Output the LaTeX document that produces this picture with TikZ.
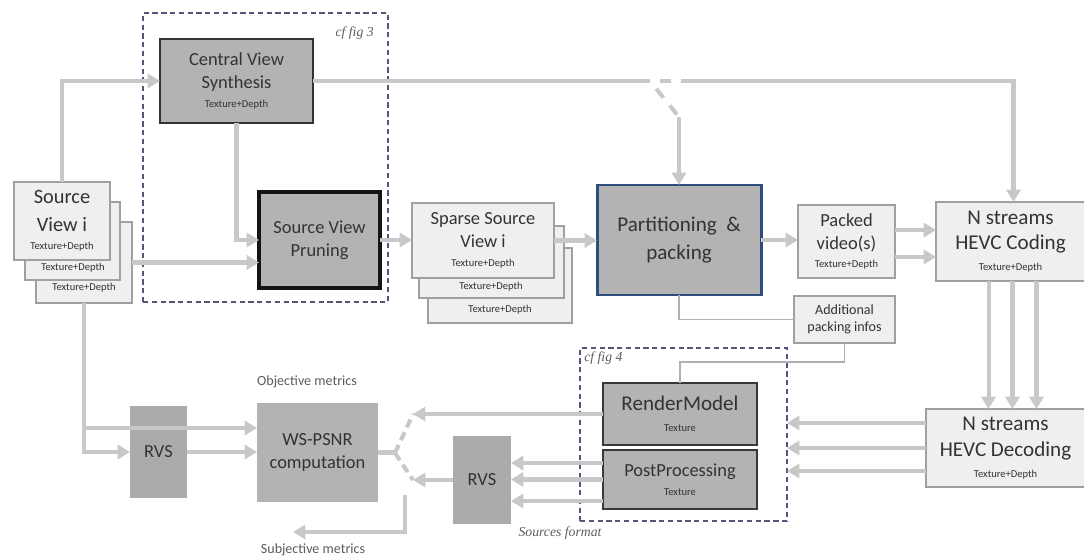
\documentclass[tikz,border=0pt]{standalone}
\usepackage{fontspec}
\setmainfont{Carlito}
\newfontfamily\serifit{Liberation Serif}
\usetikzlibrary{arrows.meta,calc}
\definecolor{arr}{HTML}{C8C8C8}
\definecolor{lightf}{HTML}{EFEFEF}
\definecolor{lightb}{HTML}{A0A0A0}
\definecolor{grayf}{HTML}{B3B3B3}
\definecolor{rvsf}{HTML}{ABABAB}
\definecolor{txt}{HTML}{333333}
\definecolor{dashc}{HTML}{55557A}
\definecolor{partb}{HTML}{2E4C7E}
\definecolor{thinl}{HTML}{B0B0B0}
\newcommand\fntA{\fontsize{10.5}{13}\selectfont}
\newcommand\fntB{\fontsize{12}{14.4}\selectfont}
\newcommand\fntS{\fontsize{6}{7}\selectfont}
\newcommand\fntM{\fontsize{8}{9.6}\selectfont}
\newcommand\bx[7]{\node[#6, minimum width={(#4-#2)*0.02cm}, minimum height={(#5-#3)*0.02cm}] (#1) at ({(#2+#4)/2},{(#3+#5)/2}) {#7};}
\tikzset{
  boxbase/.style={inner sep=0pt, outer sep=0pt, align=center, text=txt},
  lightbox/.style={boxbase, draw=lightb, fill=lightf, line width=0.6pt},
  graybox/.style={boxbase, fill=grayf, draw=#1},
  framebox/.style={inner sep=0pt, outer sep=0pt, draw=dashc, line width=0.6pt, dash pattern=on 3pt off 2pt},
  flow/.style={draw=arr, line width=2.3pt, -{Triangle[length=7pt,width=8pt]}},
  plainln/.style={draw=arr, line width=2.3pt},
  dsh/.style={draw=arr, line width=2.3pt, dash pattern=on 6.5pt off 5.7pt, dash phase=6.5pt},
  thinln/.style={draw=thinl, line width=0.9pt},
  smalltxt/.style={inner sep=0pt, text=txt, font=\fntS},
  captxt/.style={inner sep=0pt, text=txt!80, font=\serifit\itshape\fontsize{7.8}{9}\selectfont},
  notetxt/.style={inner sep=0pt, text=txt!80, font=\fntM},
}
\begin{document}
\begin{tikzpicture}[x=0.02cm, y=-0.02cm]
\useasboundingbox (0,0) rectangle (1084,557);
% frames
\bx{fig3}{143}{13}{388}{302}{framebox}{}
\bx{fig4}{580}{348}{787}{521}{framebox}{}
\node[captxt, anchor=east] (fig3l) at (374,33) {cf fig 3};
\node[captxt, anchor=west] (fig4l) at (584,358) {cf fig 4};
% source view stack
\bx{src3}{36}{222}{132}{303}{lightbox}{}
\node[smalltxt] (src3t) at (84,288) {Texture+Depth};
\bx{src2}{25}{202}{120}{280}{lightbox}{}
\node[smalltxt] (src2t) at (73,268) {Texture+Depth};
\bx{src1}{14}{182}{110}{260}{lightbox, font=\fontsize{11.6}{15.5}\selectfont}{Source\\View i\\[-5pt]{\fntS Texture+Depth}}
% central view synthesis and pruning
\bx{cvs}{160}{39}{313}{123}{graybox=black!80, line width=1.4pt, font=\fntA}{Central View\\Synthesis\\[-2pt]{\fntS Texture+Depth}}
\bx{prune}{259}{192}{380}{288}{graybox=black!92, line width=1.9pt, font=\fntA}{Source View\\Pruning}
% sparse stack
\bx{sp3}{428}{248}{572}{323}{lightbox}{}
\node[smalltxt] (sp3t) at (500,310) {Texture+Depth};
\bx{sp2}{419}{226}{564}{298}{lightbox}{}
\node[smalltxt] (sp2t) at (491,287) {Texture+Depth};
\bx{sp1}{412}{203}{554}{278}{lightbox, font=\fntA}{Sparse Source\\View i\\[-2.5pt]{\fntS Texture+Depth}}
% packing
\bx{part}{597}{185}{761}{295}{graybox=partb, line width=1.7pt, font=\fontsize{12}{16.4}\selectfont}{Partitioning\ \ \&\\packing}
\bx{packed}{798}{205}{895}{278}{lightbox, font=\fntA}{Packed\\video(s)\\[-2.5pt]{\fntS Texture+Depth}}
\bx{hevcc}{936}{202}{1085}{281}{lightbox, font=\fntB}{N streams\\HEVC Coding\\[-2.3pt]{\fntS Texture+Depth}}
\bx{add}{794}{296}{895}{343}{lightbox, font=\fntM}{Additional\\packing infos}
\bx{hevcd}{926}{409}{1085}{487}{lightbox, font=\fontsize{12}{15}\selectfont}{N streams\\HEVC Decoding\\[-3.5pt]{\fntS Texture+Depth}}
% decoder side
\bx{rm}{603}{383}{757}{445}{graybox=black!78, line width=1.6pt, font=\fntB}{RenderModel\\[-2.5pt]{\fntS Texture}}
\bx{pp}{603}{450}{757}{509}{graybox=black!78, line width=1.6pt, font=\fontsize{10.5}{12.6}\selectfont}{PostProcessing\\[-1.8pt]{\fntS Texture}}
\bx{rvs2}{453}{436}{511}{524}{boxbase, fill=rvsf, font=\fntA}{RVS}
\bx{rvs1}{130}{406}{187}{498}{boxbase, fill=rvsf, font=\fntA}{RVS}
\bx{ws}{257}{403}{378}{502}{boxbase, fill=grayf, font=\fntA}{WS-PSNR\\computation}
\node[notetxt] (obj) at (307,382) {Objective metrics};
\node[notetxt] (subj) at (313,550) {Subjective metrics};
\node[captxt] (srcfmt) at (560,533) {Sources format};
% coordinates
\coordinate (swA) at (650,81);
\coordinate (swB) at (692,81);
\coordinate (swC) at (679,117);
\coordinate (fk) at (395,453);
\coordinate (fkU) at (413,414);
\coordinate (fkL) at (413,480);
\coordinate (sj) at (405,495);
\coordinate (sjE) at (293,532);
% connectors
\draw[flow] (src1.north) |- (cvs.west);
\draw[flow] (src3.east) -- (src3.east -| prune.west);
\draw[flow] (cvs.south) |- (prune.west);
\draw[flow] (prune.east) -- (prune.east -| sp1.west);
\draw[flow] (sp1.east) -- (sp1.east -| part.west);
\draw[flow] (part.east) -- (part.east -| packed.west);
\draw[flow] ([yshift=0.23cm]packed.east) -- ([yshift=0.23cm]packed.east -| hevcc.west);
\draw[flow] ([yshift=-0.31cm]packed.east) -- ([yshift=-0.31cm]packed.east -| hevcc.west);
\draw[plainln] (cvs.east) -- (swA);
\draw[dsh] (swA) -- (swB);
\draw[dsh] (swA) -- (swC);
\draw[flow] (swC) -- (part.north);
\draw[flow] (swB) -| ([xshift=0.06cm]hevcc.north);
\draw[flow] ([xshift=-0.44cm]hevcc.south) -- ([xshift=-0.44cm]hevcc.south |- hevcd.north);
\draw[flow] ([xshift=0.04cm]hevcc.south) -- ([xshift=0.04cm]hevcc.south |- hevcd.north);
\draw[flow] ([xshift=0.52cm]hevcc.south) -- ([xshift=0.52cm]hevcc.south |- hevcd.north);
\draw[flow] ([yshift=0.5cm]hevcd.west) -- ([yshift=0.5cm]hevcd.west -| fig4.east);
\draw[flow] (hevcd.west) -- (hevcd.west -| fig4.east);
\draw[flow] ([yshift=-0.46cm]hevcd.west) -- ([yshift=-0.46cm]hevcd.west -| fig4.east);
\draw[thinln] (part.south) |- (add.west);
\draw[thinln] (add.south) -- ++(0,19) -| (rm.north);
\draw[flow] (rm.west) -- (rm.west -| fkU);
\draw[flow] ([yshift=0.33cm]pp.west) -- ([yshift=0.33cm]pp.west -| rvs2.east);
\draw[flow] (pp.west) -- (pp.west -| rvs2.east);
\draw[flow] ([yshift=-0.43cm]pp.west) -- ([yshift=-0.43cm]pp.west -| rvs2.east);
\draw[flow] (rvs2.west) -- (rvs2.west -| fkL);
\draw[plainln] (ws.east) -- (ws.east -| fk);
\draw[draw=arr, line width=2.3pt, dash pattern=on 5pt off 3pt] (fk) -- (fkU);
\draw[draw=arr, line width=2.3pt, dash pattern=on 5pt off 3pt] (fk) -- (fkL);
\draw[flow] (sj) |- (sjE);
\draw[flow] (src3.south) |- (rvs1.west);
\draw[flow] (src3.south) |- ([yshift=0.49cm]ws.west);
\draw[flow] (rvs1.east) -- (rvs1.east -| ws.west);
\end{tikzpicture}
\end{document}
